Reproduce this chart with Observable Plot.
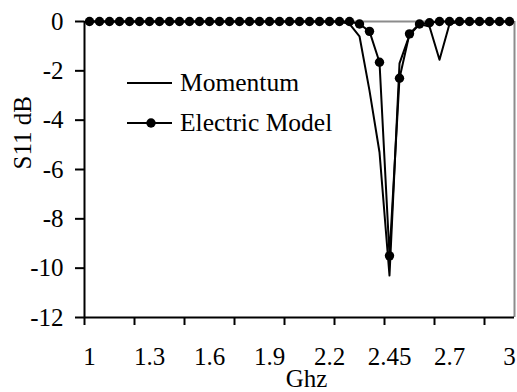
<!DOCTYPE html>
<html><head><meta charset="utf-8">
<script src="https://cdn.jsdelivr.net/npm/d3@7"></script>
<script src="https://cdn.jsdelivr.net/npm/@observablehq/plot@0.6"></script>
<style>
body{margin:0;background:#fff;}
#wrap{position:relative;width:517px;height:392px;}
#legend{position:absolute;left:127px;top:63px;font-family:"Liberation Serif","Times New Roman",serif;font-size:25.5px;color:#000;}
#legend .row{display:flex;align-items:center;height:40px;white-space:nowrap;}
#legend svg{margin-right:8px;display:block;}
</style></head><body><div id="wrap"><div id="legend"></div></div>
<script>
// frequency categories (GHz)
const freq = [1,1.05,1.1,1.15,1.2,1.25,1.3,1.35,1.4,1.45,1.5,1.55,1.6,1.65,1.7,1.75,1.8,1.85,1.9,1.95,2,2.05,2.1,2.15,2.2,
  2.25,2.3,2.35,2.4,2.42,2.45,2.48,2.5,2.55,2.6,2.65,2.7,2.75,2.8,2.85,2.9,2.95,3];
// S11 (dB)
const momentum = [0,0,0,0,0,0,0,0,0,0,0,0,0,0,0,0,0,0,0,0,0,0,0,0,0,0,
  -0.1,-0.6,-2.8,-5.3,-10.3,-1.7,-0.55,-0.1,-0.2,-1.55,-0.1,0,0,0,0,0,0];
const electric = [0,0,0,0,0,0,0,0,0,0,0,0,0,0,0,0,0,0,0,0,0,0,0,0,0,0,0,
  -0.1,-0.4,-1.65,-9.5,-2.3,-0.5,-0.1,-0.05,0,0,0,0,0,0,0,0];
const xTickLabels = ["1","1.3","1.6","1.9","2.2","2.45","2.7","3"];
const yTicks = [0,-2,-4,-6,-8,-10,-12];
const seriesNames = ["Momentum","Electric Model"];

const data = freq.map((f, i) => ({i, f, m: momentum[i], e: electric[i]}));
const labelIdx = xTickLabels.map(l => freq.indexOf(+l));
const n = freq.length;
const boundaries = d3.range(-0.5, n - 0.5, 5);

const plot = Plot.plot({
  width: 517, height: 392,
  marginLeft: 84, marginRight: 3, marginTop: 21, marginBottom: 75,
  style: {fontFamily: "'Liberation Serif','Times New Roman',serif", fontSize: "25px", background: "white", color: "black", overflow: "visible"},
  x: {domain: [-0.5, n - 0.5], axis: null},
  y: {domain: [-12, 0], axis: null},
  marks: [
    Plot.ruleY([0], {stroke: "#8c8c8c", strokeWidth: 2}),
    Plot.ruleX([n - 0.5], {stroke: "#8c8c8c", strokeWidth: 2}),
    Plot.lineY(data, {x: "i", y: "m", stroke: "black", strokeWidth: 2}),
    Plot.lineY(data, {x: "i", y: "e", stroke: "black", strokeWidth: 2}),
    Plot.dot(data, {x: "i", y: "e", r: 4.7, fill: "black"}),
    Plot.axisY(yTicks, {tickSize: 9, tickPadding: 12, strokeWidth: 2, tickFormat: d => String(d), label: null, fontSize: 25}),
    Plot.axisX(boundaries, {tickSize: 8, strokeWidth: 2, tickFormat: () => "", label: null}),
    Plot.axisX(labelIdx, {tickSize: 0, tickPadding: 30, tickFormat: i => xTickLabels[labelIdx.indexOf(i)], label: null, fontSize: 25}),
    Plot.ruleY([-12], {stroke: "black", strokeWidth: 2}),
    Plot.ruleX([-0.5], {stroke: "black", strokeWidth: 2}),
    Plot.text(["Ghz"], {text: d => d, frameAnchor: "bottom", dx: 7, dy: 69, lineAnchor: "bottom", fontSize: 25}),
    Plot.text(["S11 dB"], {text: d => d, frameAnchor: "left", rotate: -90, dx: -54, lineAnchor: "bottom", fontSize: 25})
  ]
});
document.getElementById("wrap").prepend(plot);

// legend
const legend = document.getElementById("legend");
seriesNames.forEach((name, k) => {
  const row = document.createElement("div");
  row.className = "row";
  const svg = d3.create("svg").attr("width", 45).attr("height", 12);
  svg.append("line").attr("x1", 0).attr("x2", 45).attr("y1", 6).attr("y2", 6).attr("stroke", "black").attr("stroke-width", 2);
  if (k === 1) svg.append("circle").attr("cx", 24).attr("cy", 6).attr("r", 4.7).attr("fill", "black");
  row.appendChild(svg.node());
  const span = document.createElement("span");
  span.textContent = name;
  row.appendChild(span);
  legend.appendChild(row);
});
</script>
</body></html>
